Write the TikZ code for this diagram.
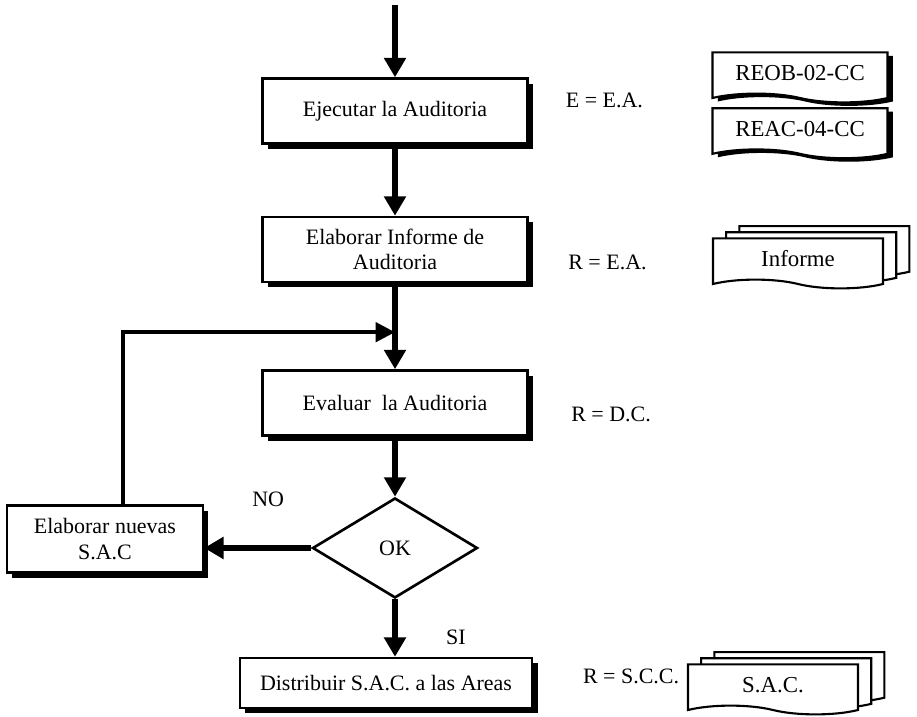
\documentclass[tikz,border=0pt]{standalone}
\usepackage{fontspec}
\setmainfont{Liberation Serif}
\usetikzlibrary{positioning,arrows.meta,shapes.geometric,shapes.symbols,shadows}

\begin{document}
\begin{tikzpicture}[
    node distance=1.4cm and 2cm,
    proceso/.style={
        rectangle,
        draw=black,
        line width=1.4pt,
        fill=white,
        align=center,
        minimum width=5.3cm,
        minimum height=1.3cm,
        font=\fontsize{12.5}{14.5}\selectfont,
        drop shadow={shadow xshift=3pt, shadow yshift=-3pt, fill=black, opacity=1}
    },
    decision/.style={
        diamond,
        draw=black,
        line width=1.5pt,
        fill=white,
        aspect=1.67,
        inner sep=0pt,
        minimum width=3.3cm,
        minimum height=2cm,
        font=\fontsize{12.5}{14.5}\selectfont
    },
    documento/.style={
        tape,
        tape bend top=none,
        tape bend bottom=out and in,
        draw=black,
        line width=1.2pt,
        fill=white,
        minimum width=3.5cm,
        minimum height=1cm,
        font=\fontsize{13}{15}\selectfont
    },
    registro/.style={
        documento,
        drop shadow={shadow xshift=3pt, shadow yshift=-2pt, fill=black, opacity=1}
    },
    multidoc/.style={
        documento,
        minimum width=3.4cm,
        copy shadow={shadow xshift=15pt, shadow yshift=7pt, fill=white, draw=black, line width=1.2pt},
        copy shadow={shadow xshift=7.5pt, shadow yshift=3.5pt, fill=white, draw=black, line width=1.2pt}
    },
    etiqueta/.style={font=\fontsize{12.5}{14.5}\selectfont, inner sep=1pt},
    flecha/.style={
        -{Triangle[length=11pt,width=12pt]},
        line width=3pt,
        draw=black
    },
    retorno/.style={
        -{Triangle[length=11pt,width=11pt]},
        line width=2pt,
        draw=black
    }
]
\useasboundingbox (0,0) rectangle (18.34,-14.32);

% Proceso principal
\node[proceso] (ejecutar) at (7.9,-2.22) {Ejecutar la Auditoria};
\node[proceso, below=1.42cm of ejecutar] (informe) {Elaborar Informe de\\Auditoria};
\node[proceso, below=1.72cm of informe] (evaluar) {Evaluar\ \ la Auditoria};
\node[decision, below=1.2cm of evaluar] (ok) {OK};
\node[proceso, below=1.15cm of ok, xshift=-0.18cm, minimum width=5.85cm, minimum height=1cm] (distribuir) {Distribuir S.A.C. a las Areas};
\node[proceso, left=2.14cm of ok, yshift=0.18cm, minimum width=3.92cm, minimum height=1.34cm] (nuevas) {Elaborar nuevas\\S.A.C};

% Responsables
\node[etiqueta, right=0.7cm of ejecutar, yshift=0.22cm] (rejecutar) {E = E.A.};
\node[etiqueta, right=0.75cm of informe, yshift=-0.26cm] (rinforme) {R = E.A.};
\node[etiqueta, right=0.81cm of evaluar, yshift=-0.22cm] (revaluar) {R = D.C.};
\node[etiqueta, right=0.95cm of distribuir, yshift=0.13cm] (rdistribuir) {R = S.C.C.};

% Documentos
\node[registro] (reob) at (16.0,-1.46) {REOB-02-CC};
\node[registro, below=0.25cm of reob] (reac) {REAC-04-CC};
\node[multidoc] (docinforme) at (15.96,-5.18) {Informe};
\node[multidoc] (docsac) at (15.46,-13.7) {S.A.C.};

% Etiquetas de la decision
\node[etiqueta, above left=0.78cm and 0.5cm of ok.west] (no) {NO};
\node[etiqueta, below right=0.58cm and 0.98cm of ok.south] (si) {SI};

% Flujo
\coordinate (inicio) at (7.9,-0.1);
\draw[flecha] (inicio) -- (ejecutar);
\draw[flecha] (ejecutar) -- (informe);
\draw[flecha] (informe) -- (evaluar);
\draw[flecha] (evaluar) -- (ok);
\draw[flecha] (ok) -- (ok.south |- distribuir.north);
\draw[flecha] (ok.west) -- (ok.west -| nuevas.east);

% Retorno
\coordinate[below=0.98cm of informe.south] (union);
\draw[retorno] ([xshift=0.36cm]nuevas.north) |- (union);

\end{tikzpicture}
\end{document}
